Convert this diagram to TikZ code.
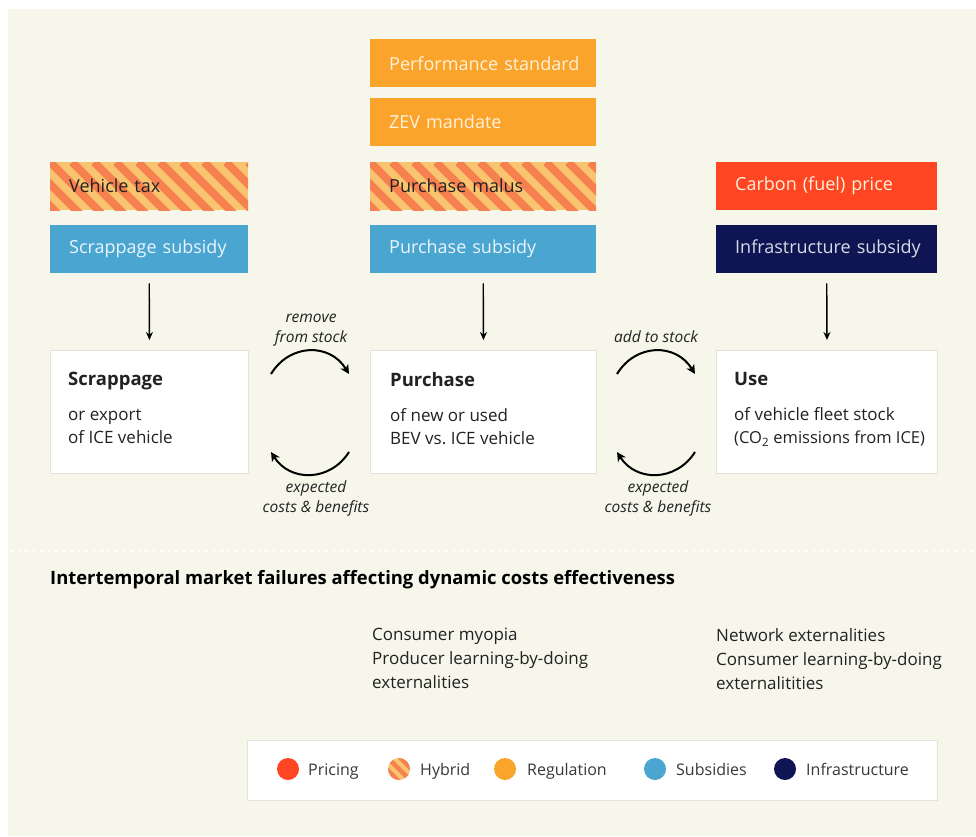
\documentclass[tikz,border=0pt]{standalone}
\usepackage{fontspec}
\setmainfont{Open Sans}
\usetikzlibrary{arrows.meta}
\definecolor{cream}{HTML}{F6F6EA}
\definecolor{regorange}{HTML}{FAA42B}
\definecolor{pricered}{HTML}{FF4521}
\definecolor{subblue}{HTML}{4AA5D1}
\definecolor{infranavy}{HTML}{0F1552}
\definecolor{hlight}{HTML}{F9C46F}
\definecolor{hcoral}{HTML}{F6804F}
\definecolor{boxborder}{HTML}{E3E3DA}
\definecolor{darktext}{HTML}{222222}
\definecolor{lighttext}{HTML}{FFF1DC}
\definecolor{subtext}{HTML}{EAF5FB}
\definecolor{navytext}{HTML}{D8DAE6}
\newcommand\stghead{\fontsize{18.5}{23}\selectfont\bfseries}
\begin{document}
\begin{tikzpicture}[x=1pt,y=-1pt,
  every node/.style={font=\fontsize{18}{23}\selectfont, text=darktext},
  pbox/.style={anchor=north west, minimum height=48pt, inner xsep=19pt, inner ysep=0pt, align=left},
  hybridfill/.style={fill=hlight, path picture={
     \foreach \k in {-4,...,12} {
       \draw[hcoral, line width=7.8pt] ([xshift=\k*22pt]path picture bounding box.north west) -- ++(70,70);
     }}},
  stage/.style={anchor=north west, fill=white, draw=boxborder, line width=1pt, minimum height=123pt, inner sep=0pt},
  stagetext/.style={anchor=north west, inner sep=0pt, align=left, font=\fontsize{17}{23}\selectfont},
  downarr/.style={-{Stealth[length=8pt,width=7pt]}, line width=1.4pt, black, shorten <=10pt, shorten >=10pt},
  curvarr/.style={-{Stealth[length=9pt,width=9pt,inset=2.5pt]}, line width=2pt, black},
  flowlabel/.style={font=\fontsize{15.5}{20}\selectfont\itshape, align=center, text=darktext, inner sep=0pt},
  legdot/.style={circle, minimum size=22pt, inner sep=0pt},
  leglabel/.style={anchor=base west, inner sep=0pt, font=\fontsize{16}{20}\selectfont, text=darktext!90}
]
\useasboundingbox (0,0) rectangle (976,836);
\fill[white] (0,0) rectangle (976,836);
\fill[cream] (8,9) rectangle (976,836);

% regulation boxes
\node[pbox, fill=regorange, text=lighttext, text width=188pt] (perf) at (370,39) {\mbox{Performance standard}};
\node[pbox, fill=regorange, text=lighttext, text width=188pt] (zev) at (370,98) {\mbox{ZEV mandate}};

% hybrid / pricing row
\node[pbox, hybridfill, text=darktext, text width=160pt] (vtax) at (50,162) {\mbox{Vehicle tax}};
\node[pbox, hybridfill, text=darktext, text width=188pt] (malus) at (370,162) {\mbox{Purchase malus}};
\node[pbox, fill=pricered, text=lighttext, text width=183pt] (carbon) at (716,162) {\mbox{Carbon (fuel) price}};

% subsidy row
\node[pbox, fill=subblue, text=subtext, text width=160pt] (scrapsub) at (50,225) {\mbox{Scrappage subsidy}};
\node[pbox, fill=subblue, text=subtext, text width=188pt] (purchsub) at (370,225) {\mbox{Purchase subsidy}};
\node[pbox, fill=infranavy, text=navytext, text width=183pt] (infrasub) at (716,225) {\mbox{Infrastructure subsidy}};

% stage boxes
\node[stage, minimum width=198pt] (scrap) at (50,350) {};
\node[stage, minimum width=226pt] (purch) at (370,350) {};
\node[stage, minimum width=221pt] (use) at (716,350) {};
\node[stagetext] (scraptxt) at (68,372) {{\stghead Scrappage}\\[12pt]or export\\of ICE vehicle};
\node[stagetext] (purchtxt) at (390,372) {{\stghead Purchase}\\[12pt]of new or used\\BEV vs.\ ICE vehicle};
\node[stagetext] (usetxt) at (734,372) {{\stghead Use}\\[12pt]of vehicle fleet stock\\{\fontsize{16.5}{23}\selectfont(CO\textsubscript{2} emissions from ICE)}};

% down arrows
\draw[downarr] (scrapsub.south) -- (scrap.north);
\draw[downarr] (purchsub.south) -- (purch.north);
\draw[downarr] (infrasub.south) -- (use.north);

% curved arrows left
\coordinate (l1a) at (271,374);
\coordinate (l1b) at (349,374);
\coordinate (l2a) at (349,452);
\coordinate (l2b) at (271,452);
\draw[curvarr] (l1a) .. controls (290,343) and (330,343) .. (l1b);
\draw[curvarr] (l2a) .. controls (330,482) and (290,482) .. (l2b);
\node[flowlabel] (remove) at (311,330) {remove\\from stock};
\node[flowlabel] (exp1) at (316,498) {expected\\costs \& benefits};

% curved arrows right
\coordinate (r1a) at (617,374);
\coordinate (r1b) at (695,374);
\coordinate (r2a) at (695,452);
\coordinate (r2b) at (617,452);
\draw[curvarr] (r1a) .. controls (636,343) and (676,343) .. (r1b);
\draw[curvarr] (r2a) .. controls (676,482) and (636,482) .. (r2b);
\node[flowlabel] (add) at (656,337) {add to stock};
\node[flowlabel] (exp2) at (658,498) {expected\\costs \& benefits};

% separator
\coordinate (sepL) at (10,551);
\coordinate (sepR) at (976,551);
\draw[white, line width=2.5pt, dash pattern=on 2.5pt off 5pt] (sepL) -- (sepR);

% market failures
\node[anchor=base west, inner sep=0pt, font=\fontsize{18.4}{22}\selectfont\bfseries, text=black] (title) at (50,584) {Intertemporal market failures affecting dynamic costs effectiveness};
\node[anchor=north west, inner sep=0pt, align=left, font=\fontsize{17}{24}\selectfont] (mf1) at (372,628) {Consumer myopia\\Producer learning-by-doing\\externalities};
\node[anchor=north west, inner sep=0pt, align=left, font=\fontsize{17}{24}\selectfont] (mf2) at (716,628) {Network externalities\\Consumer learning-by-doing\\externalitities};

% legend
\node[anchor=north west, fill=white, draw=boxborder, line width=1pt, minimum width=690pt, minimum height=60pt] (legend) at (247,740) {};
\node[legdot, fill=pricered] (dp) at (288,769) {};
\node[leglabel] (tp) at (308,775) {Pricing};
\node[legdot, fill=hlight] (dh) at (399,769) {};
\foreach \da/\db in {-11/-6.6, -2.2/2.2, 6.6/11} {
  \pgfmathsetmacro\angA{asin(max(-1,min(1,\da/11)))}
  \pgfmathsetmacro\angB{asin(max(-1,min(1,\db/11)))}
  \fill[hcoral, shift={(dh.center)}, rotate=-45]
    (\angA:11) arc[start angle=\angA, end angle=\angB, radius=11]
    -- (180-\angB:11) arc[start angle=180-\angB, end angle=180-\angA, radius=11] -- cycle;
}
\node[leglabel] (th) at (420,775) {Hybrid};
\node[legdot, fill=regorange] (dr) at (505,769) {};
\node[leglabel] (tr) at (527,775) {Regulation};
\node[legdot, fill=subblue] (ds) at (655,769) {};
\node[leglabel] (ts) at (676,775) {Subsidies};
\node[legdot, fill=infranavy] (di) at (785,769) {};
\node[leglabel] (ti) at (806,775) {Infrastructure};
\end{tikzpicture}
\end{document}
